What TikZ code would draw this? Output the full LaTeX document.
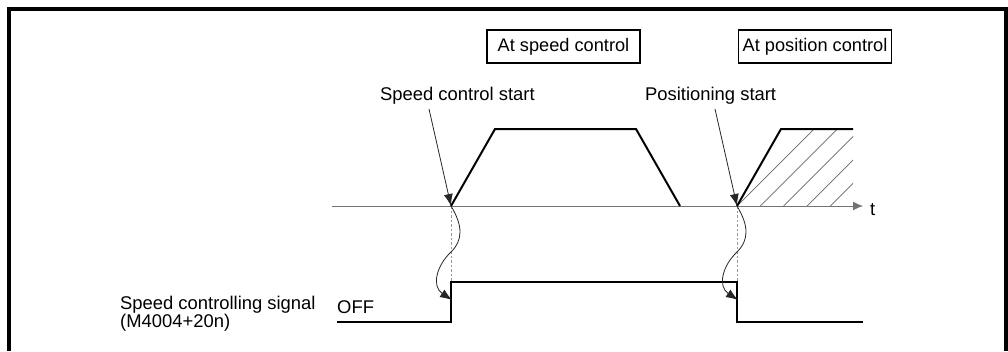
\documentclass[tikz,border=0pt]{standalone}
\usepackage{fontspec}
\setmainfont{Liberation Sans}
\usetikzlibrary{arrows.meta}
\begin{document}
\begin{tikzpicture}[x=1pt,y=-1pt,
  lbl/.style={inner sep=0pt,anchor=base west,font=\fontsize{18.4}{18.4}\selectfont},
  modebox/.style={draw,line width=1.6pt,minimum width=153pt,minimum height=33pt,inner sep=0pt,font=\fontsize{18.2}{18.2}\selectfont},
  frameline/.style={line width=3.5pt},
  wave/.style={line width=0.8pt,black!85},
  tip/.style={-{Latex[length=12pt,width=9pt]}},
  pointer/.style={line width=0.8pt,black!85,-{Latex[length=12pt,width=9pt]}},
  level/.style={line width=2pt,line join=miter},
  axisline/.style={line width=1pt,black!55},
  guide/.style={line width=1pt,black!40,dash pattern=on 2.5pt off 2pt},
  hatch/.style={line width=0.7pt,black!60}]
\useasboundingbox (0,0) rectangle (1008,351);
% frame
\draw[frameline] (9,351) -- (9,9) -- (1006,9) -- (1006,351);
% mode boxes
\node[modebox] (bspeed) at (563.5,46.3) {At speed control};
\node[modebox] (bpos) at (815,46.3) {At position control};
% labels
\node[lbl] (scs) at (380,100) {Speed control start};
\node[lbl] (ps) at (645,100) {Positioning start};
\node[lbl] (sig1) at (120,309) {Speed controlling signal};
\node[lbl] (sig2) at (120,327) {(M4004+20n)};
\node[lbl] (off) at (337,313) {OFF};
\node[lbl] (tl) at (870,215) {t};
% key points
\coordinate (a0) at (332,206);
\coordinate (a1) at (863,206);
\coordinate (s1) at (451,206);
\coordinate (s2) at (737,206);
\coordinate (p1) at (429,109);
\coordinate (p2) at (715,109);
\coordinate (h1) at (451,282);
\coordinate (h2) at (737,282);
% hatching
\begin{scope}
\clip (737,206) -- (781,129) -- (853,129) -- (853,206) -- cycle;
\foreach \a in {737,760.3,783.7,807,830.3}
  \draw[hatch] (\a,206) -- ++(120,-120);
\end{scope}
% axis
\draw[axisline,-{Latex[length=10pt,width=9pt]}] (a0) -- (a1);
% speed profile
\draw[level] (s1) -- (495,129) -- (636,129) -- (680,206);
\draw[level] (s2) -- (781,129) -- (853,129);
% guides
\draw[guide] (s1) -- (h1);
\draw[guide] (s2) -- (h2);
% signal
\draw[level] (337,322) -- (451,322) -- (h1) -- (h2) -- (737,322) -- (863,322);
% pointers
\draw[pointer] (p1) -- (s1);
\draw[pointer] (p2) -- (s2);
% wavy arrows
\draw[wave,tip] (s1) .. controls (463,226) and (463,240) .. (451,252)
   .. controls (437,265) and (431,286) .. (452,300);
\draw[wave,tip] (s2) .. controls (749,226) and (749,240) .. (737,252)
   .. controls (723,265) and (717,286) .. (738,300);
\end{tikzpicture}
\end{document}
